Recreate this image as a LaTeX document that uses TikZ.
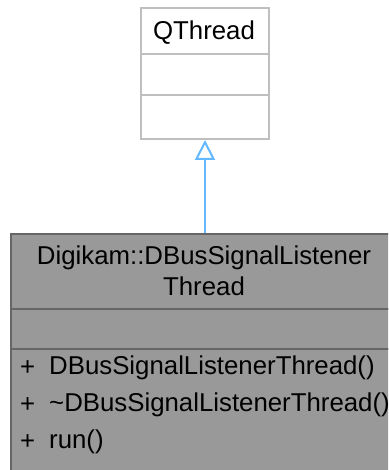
\documentclass[tikz,border=0pt]{standalone}
\usepackage{fontspec}
\setmainfont{Liberation Sans}
\usetikzlibrary{arrows.meta}
\definecolor{qborder}{HTML}{BFBFBF}
\definecolor{gfill}{HTML}{999999}
\definecolor{gborder}{HTML}{666666}
\definecolor{arrowcol}{HTML}{63B8FF}
\tikzset{
  qsec/.style={draw=qborder, fill=white, line width=2pt, minimum width=128pt, anchor=north west, inner sep=0pt},
  gsec/.style={draw=gborder, fill=gfill, line width=2pt, minimum width=390pt, anchor=north west, inner sep=0pt},
  txt/.style={inner sep=0pt, text=black},
  inherit/.style={draw=arrowcol, line width=2pt, -{Triangle[open, fill=white, length=20pt, width=20pt]}}
}
\begin{document}
\begin{tikzpicture}[x=1pt,y=-1pt,font=\fontsize{25.8}{31}\selectfont]
\useasboundingbox (0,0) rectangle (388,470);
\clip (0,0) rectangle (388,470);
% QThread
\node[qsec, minimum height=46pt] (q1) at (140,7) {};
\node[qsec, minimum height=41pt] (q2) at (140,53) {};
\node[qsec, minimum height=44pt] (q3) at (140,94) {};
\node[txt] (qname) at (204,33) {QThread};
% Derived class
\node[gsec, minimum height=75pt] (g1) at (10,233) {};
\node[gsec, minimum height=40pt] (g2) at (10,308) {};
\node[gsec, minimum height=140pt] (g3) at (10,348) {};
\node[txt, align=center] (gname) at (204,271) {Digikam::DBusSignalListener\\Thread};
\node[txt, anchor=west] (p1) at (20,368) {+};
\node[txt, anchor=west] (m1) at (49,368) {DBusSignalListenerThread()};
\node[txt, anchor=west] (p2) at (20,405) {+};
\node[txt, anchor=west] (m2) at (49,405) {\textasciitilde DBusSignalListenerThread()};
\node[txt, anchor=west] (p3) at (20,442) {+};
\node[txt, anchor=west] (m3) at (49,442) {run()};
% inheritance
\coordinate (gtop) at (205,233);
\draw[inherit] (gtop) -- (gtop |- q3.south);
\end{tikzpicture}
\end{document}
